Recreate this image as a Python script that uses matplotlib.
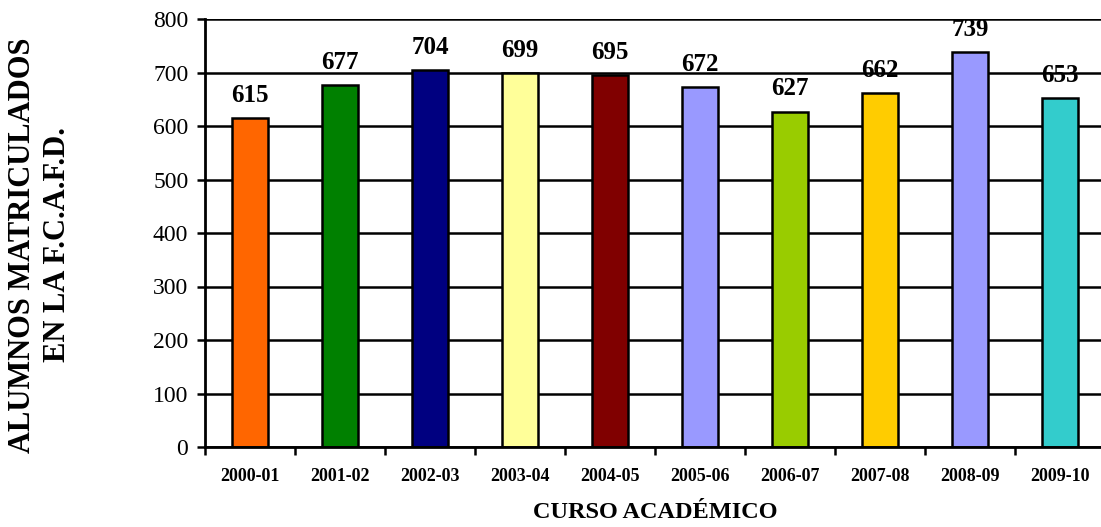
import matplotlib.pyplot as plt
import numpy as np

cursos = ['2000-01', '2001-02', '2002-03', '2003-04', '2004-05',
          '2005-06', '2006-07', '2007-08', '2008-09', '2009-10']
alumnos = [615, 677, 704, 699, 695, 672, 627, 662, 739, 653]
colores = ['#FF6600', '#008000', '#000080', '#FFFF99', '#800000',
           '#9999FF', '#99CC00', '#FFCC00', '#9999FF', '#33CCCC']

plt.rcParams['font.family'] = ['Liberation Serif', 'DejaVu Serif']

fig = plt.figure(figsize=(11.01, 5.27), dpi=100)
ax = fig.add_axes([205 / 1101, 80 / 527, 900 / 1101, 428 / 527])

x = np.arange(len(cursos))
ax.bar(x, alumnos, width=0.4, color=colores, edgecolor='black', linewidth=1.8, zorder=3)

for xi, v in zip(x, alumnos):
    ax.annotate(str(v), (xi, v), xytext=(0, 8), textcoords='offset points',
                ha='center', va='bottom', fontsize=18, fontweight='bold')

ax.set_xlim(-0.5, len(cursos) - 0.5)
ax.set_ylim(0, 800)
ax.set_yticks(range(0, 801, 100))
ax.yaxis.grid(True, color='black', linewidth=1.8, zorder=0)
ax.tick_params(axis='y', labelsize=17, width=1.8, length=6, direction='out', pad=6)

# category boundaries as major ticks, labels on minor ticks
ax.set_xticks(np.arange(-0.5, len(cursos), 1.0))
ax.set_xticklabels([])
ax.set_xticks(x, minor=True)
ax.set_xticklabels(cursos, minor=True, fontsize=13, fontweight='bold')
ax.tick_params(axis='x', which='major', width=1.8, length=6, direction='out')
ax.tick_params(axis='x', which='minor', length=0, pad=15)

for s in ['top', 'right']:
    ax.spines[s].set_visible(False)
for s in ['left', 'bottom']:
    ax.spines[s].set_linewidth(2)
    ax.spines[s].set_zorder(4)

fig.text(655 / 1101, 1 - 513 / 527, 'CURSO ACADÉMICO', ha='center', va='center',
         fontsize=17.5, fontweight='bold')
fig.text(40 / 1101, 1 - 245 / 527, 'ALUMNOS MATRICULADOS\nEN LA F.C.A.F.D.',
         ha='center', va='center', rotation=90, fontsize=22, fontweight='bold',
         linespacing=1.3)

fig.savefig('out.png', dpi=100)
